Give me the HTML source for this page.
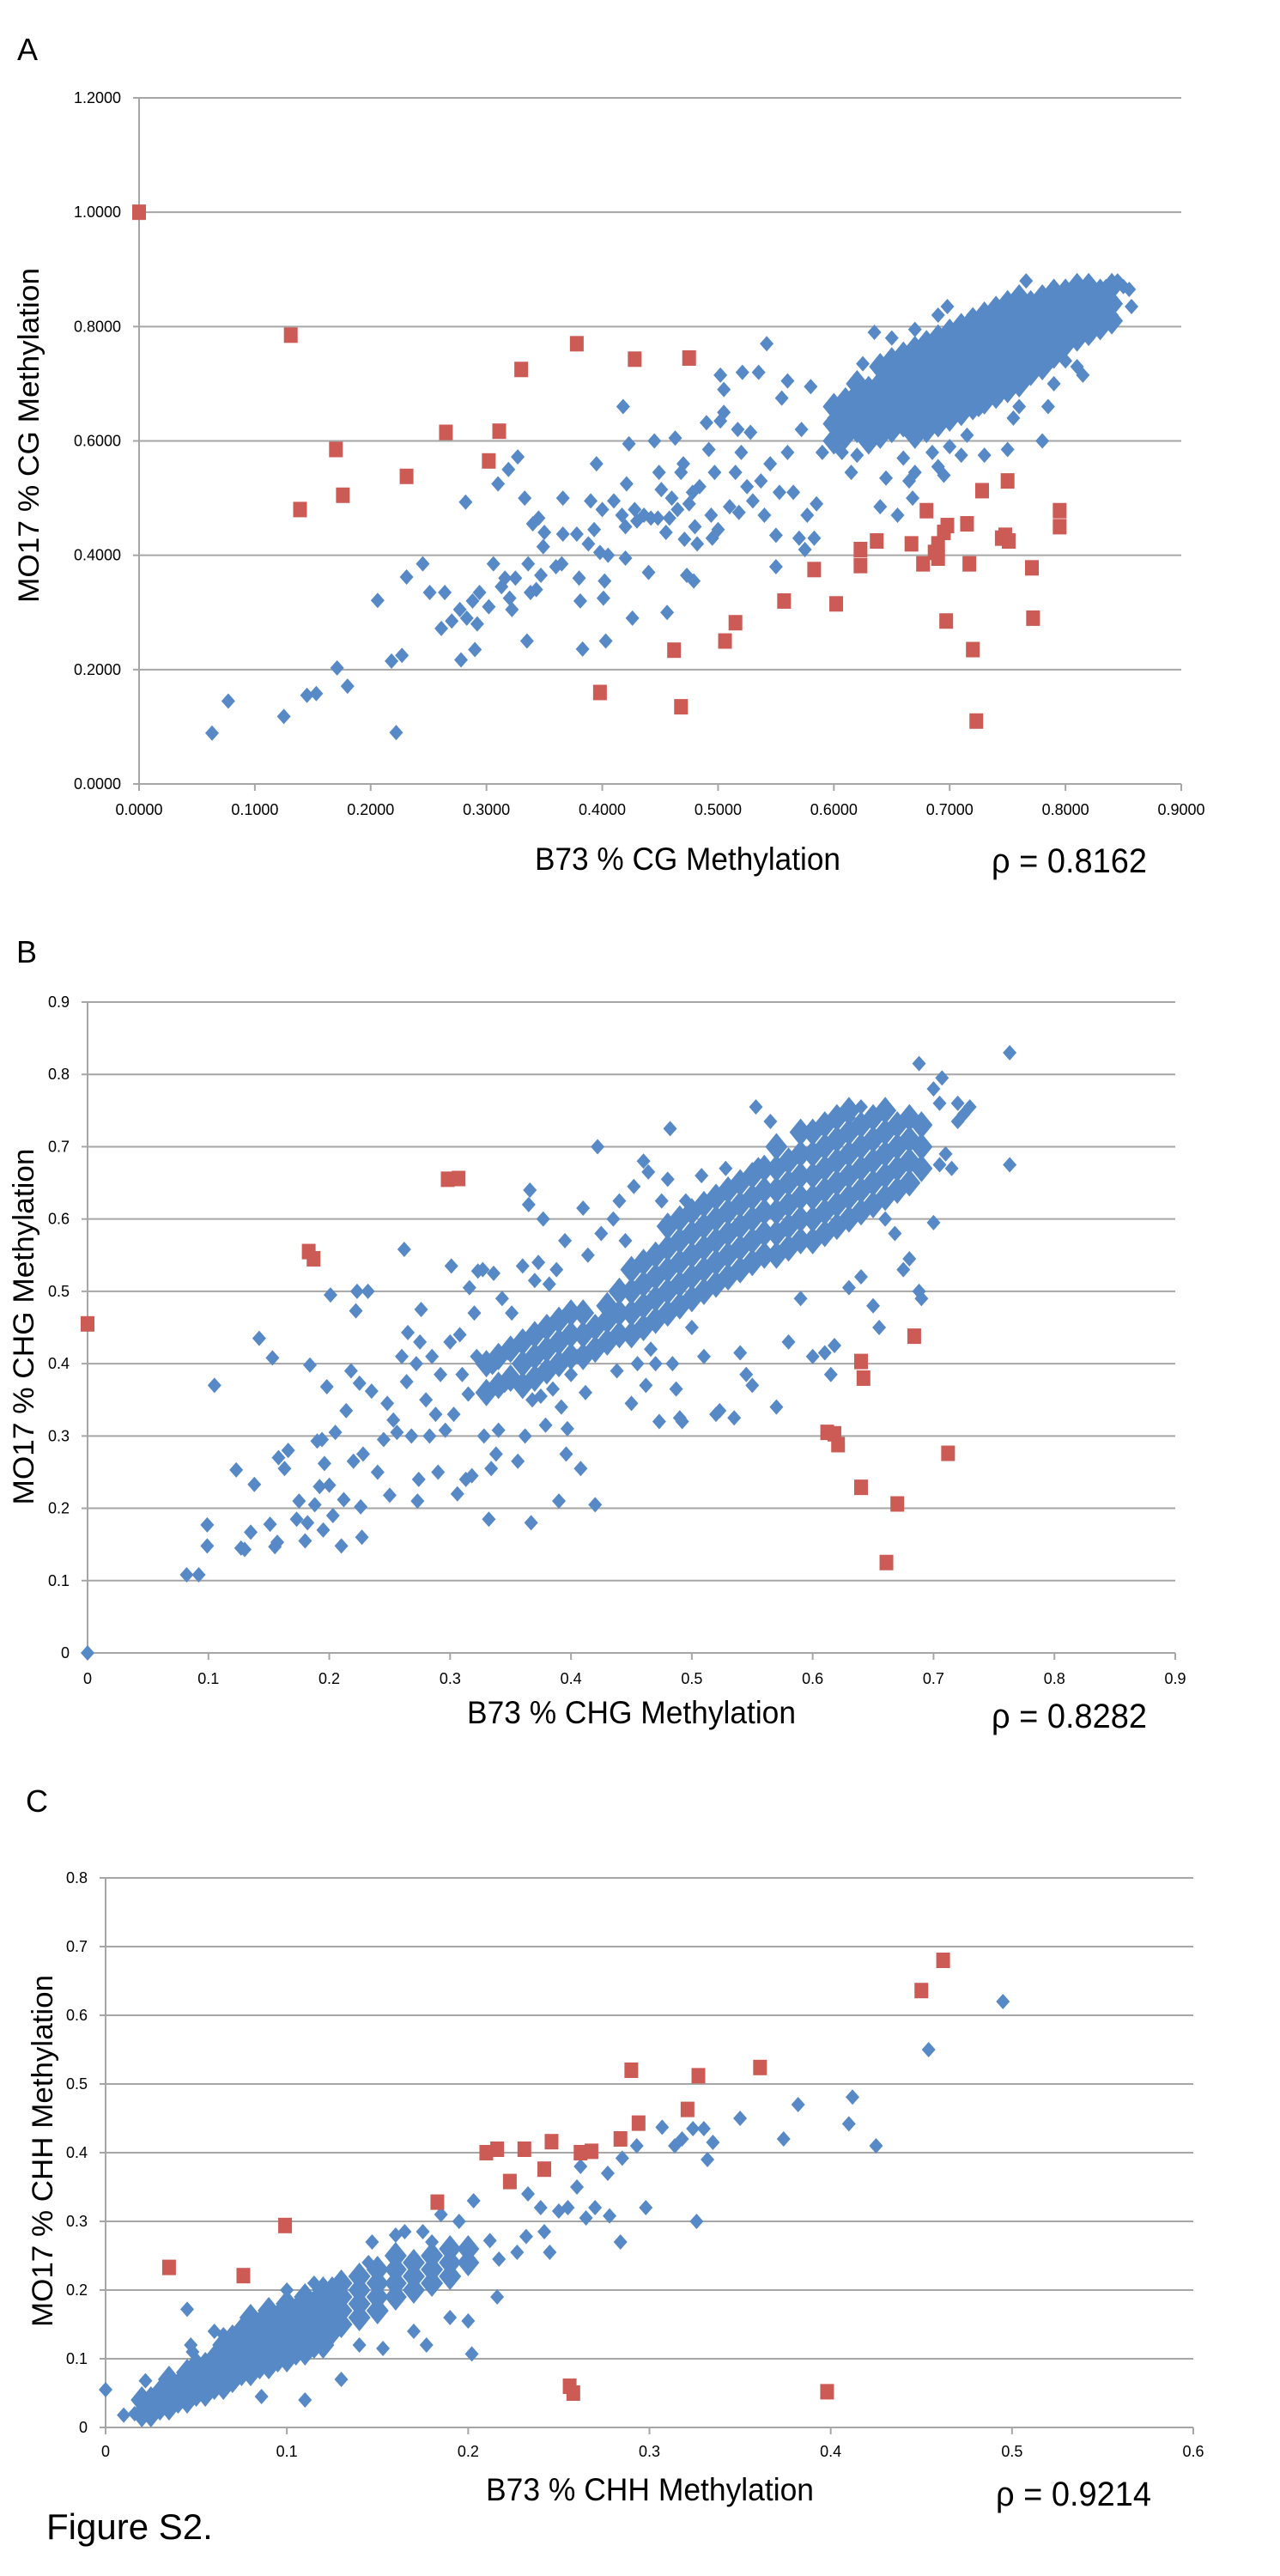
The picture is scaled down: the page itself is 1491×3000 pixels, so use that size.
<!DOCTYPE html>
<html><head><meta charset="utf-8"><style>
html,body{margin:0;padding:0;background:#fff;}
svg{display:block;font-family:"Liberation Sans",sans-serif;}
</style></head>
<body>
<svg id="fig" width="1491" height="3000" viewBox="0 0 1491 3000" xmlns="http://www.w3.org/2000/svg">
<rect x="0" y="0" width="1491" height="3000" fill="#fff"/>
<text x="20" y="70" font-size="36">A</text>
<text x="19" y="1121" font-size="36">B</text>
<text x="30" y="2110" font-size="36">C</text>
<text x="54" y="2957" font-size="42">Figure S2.</text>
</svg>
<script>
// ===== Panel A: CG =====
const cgXTicks = [0,0.1,0.2,0.3,0.4,0.5,0.6,0.7,0.8,0.9];
const cgYTicks = [0,0.2,0.4,0.6,0.8,1.0,1.2];
const cgRed = [[0,1.0],[0.131,0.785],[0.139,0.48],[0.170,0.585],[0.176,0.505],[0.231,0.538],[0.265,0.615],[0.302,0.565],[0.311,0.617],[0.330,0.725],[0.378,0.77],[0.398,0.16],[0.428,0.743],[0.462,0.234],[0.468,0.135],[0.475,0.745],[0.506,0.25],[0.515,0.282],[0.557,0.32],[0.583,0.375],[0.602,0.315],[0.623,0.41],[0.623,0.382],[0.637,0.425],[0.667,0.42],[0.677,0.385],[0.680,0.478],[0.687,0.405],[0.69,0.42],[0.69,0.395],[0.695,0.44],[0.698,0.452],[0.697,0.285],[0.715,0.455],[0.717,0.385],[0.72,0.235],[0.723,0.11],[0.728,0.513],[0.745,0.43],[0.748,0.435],[0.75,0.53],[0.751,0.425],[0.771,0.378],[0.772,0.29],[0.795,0.478],[0.795,0.45]];
const cgBlueScatter = [[0.063,0.089],[0.077,0.145],[0.125,0.118],[0.145,0.155],[0.153,0.158],[0.171,0.203],[0.180,0.171],[0.206,0.321],[0.218,0.215],[0.222,0.090],[0.227,0.225],[0.231,0.362],[0.245,0.385],[0.251,0.335],[0.264,0.335],[0.261,0.272],[0.270,0.285],[0.277,0.305],[0.283,0.29],[0.282,0.493],[0.288,0.32],[0.292,0.28],[0.294,0.335],[0.29,0.235],[0.278,0.217],[0.302,0.31],[0.306,0.385],[0.310,0.525],[0.313,0.345],[0.316,0.36],[0.319,0.55],[0.320,0.325],[0.322,0.305],[0.325,0.36],[0.327,0.572],[0.333,0.50],[0.335,0.25],[0.336,0.385],[0.338,0.335],[0.340,0.455],[0.343,0.34],[0.345,0.465],[0.347,0.365],[0.349,0.415],[0.35,0.44],[0.36,0.38],[0.365,0.385],[0.366,0.50],[0.366,0.437],[0.378,0.437],[0.380,0.36],[0.381,0.32],[0.383,0.236],[0.388,0.42],[0.390,0.495],[0.393,0.445],[0.395,0.56],[0.398,0.405],[0.4,0.48],[0.401,0.325],[0.402,0.355],[0.403,0.25],[0.405,0.40],[0.41,0.495],[0.417,0.47],[0.418,0.66],[0.42,0.45],[0.42,0.395],[0.421,0.525],[0.423,0.595],[0.426,0.29],[0.428,0.48],[0.43,0.46],[0.436,0.47],[0.44,0.37],[0.442,0.465],[0.445,0.60],[0.448,0.465],[0.449,0.545],[0.451,0.515],[0.455,0.44],[0.456,0.30],[0.458,0.465],[0.46,0.50],[0.463,0.605],[0.465,0.48],[0.468,0.545],[0.47,0.56],[0.471,0.428],[0.473,0.365],[0.475,0.49],[0.478,0.51],[0.479,0.355],[0.48,0.45],[0.482,0.42],[0.484,0.52],[0.49,0.632],[0.492,0.585],[0.494,0.47],[0.495,0.43],[0.497,0.545],[0.5,0.445],[0.502,0.635],[0.502,0.715],[0.505,0.69],[0.505,0.65],[0.51,0.485],[0.515,0.545],[0.517,0.62],[0.518,0.475],[0.52,0.58],[0.521,0.72],[0.525,0.52],[0.528,0.615],[0.53,0.495],[0.535,0.72],[0.537,0.53],[0.54,0.47],[0.542,0.77],[0.545,0.56],[0.55,0.435],[0.55,0.38],[0.553,0.51],[0.555,0.675],[0.56,0.58],[0.56,0.705],[0.565,0.51],[0.57,0.43],[0.572,0.62],[0.575,0.41],[0.577,0.47],[0.58,0.695],[0.583,0.43],[0.585,0.49],[0.59,0.58],[0.6,0.64],[0.607,0.58],[0.61,0.65],[0.615,0.545],[0.62,0.575],[0.625,0.735],[0.63,0.60],[0.635,0.79],[0.64,0.485],[0.645,0.535],[0.65,0.78],[0.655,0.47],[0.66,0.57],[0.665,0.53],[0.668,0.50],[0.67,0.795],[0.67,0.545],[0.685,0.58],[0.69,0.82],[0.695,0.54],[0.69,0.555],[0.698,0.835],[0.70,0.59],[0.71,0.575],[0.715,0.61],[0.72,0.82],[0.725,0.655],[0.73,0.575],[0.74,0.67],[0.75,0.585],[0.755,0.64],[0.76,0.66],[0.766,0.88],[0.78,0.60],[0.785,0.66],[0.79,0.70],[0.8,0.74],[0.805,0.79],[0.81,0.73],[0.815,0.715],[0.82,0.78],[0.83,0.86],[0.84,0.82],[0.845,0.88],[0.85,0.87],[0.855,0.865],[0.857,0.835],[0.835,0.87],[0.825,0.85]];
const cgBlueCore = [[0.60,[.60,.63,.66]],[0.61,[.61,.64,.67]],[0.62,[.62,.65,.68,.70]],[0.63,[.60,.63,.66,.69]],[0.64,[.61,.64,.67,.70,.73]],[0.65,[.62,.65,.68,.71,.74]],[0.66,[.63,.66,.69,.72,.75]],[0.67,[.61,.64,.67,.70,.73,.76]],[0.68,[.62,.65,.68,.71,.74,.77]],[0.69,[.63,.66,.69,.72,.75,.78]],[0.70,[.64,.67,.70,.73,.76,.79]],[0.71,[.65,.68,.71,.74,.77,.80]],[0.72,[.66,.69,.72,.75,.78,.81]],[0.73,[.67,.70,.73,.76,.79,.82]],[0.74,[.68,.71,.74,.77,.80,.83]],[0.75,[.69,.72,.75,.78,.81,.84]],[0.76,[.70,.73,.76,.79,.82,.85]],[0.77,[.72,.75,.78,.81,.84]],[0.78,[.73,.76,.79,.82,.85]],[0.79,[.75,.78,.81,.84,.86]],[0.80,[.77,.80,.83,.86]],[0.81,[.78,.81,.84,.87]],[0.82,[.79,.82,.85,.87]],[0.83,[.80,.83,.86]],[0.84,[.81,.84,.87]]];

// ===== Panel B: CHG =====
const chgXTicks = [0,0.1,0.2,0.3,0.4,0.5,0.6,0.7,0.8,0.9];
const chgYTicks = [0,0.1,0.2,0.3,0.4,0.5,0.6,0.7,0.8,0.9];
const chgRed = [[0,0.455],[0.183,0.555],[0.187,0.545],[0.298,0.655],[0.307,0.656],[0.612,0.305],[0.618,0.303],[0.621,0.288],[0.640,0.403],[0.642,0.38],[0.640,0.229],[0.661,0.125],[0.670,0.206],[0.684,0.438],[0.712,0.276]];
const chgBlueScatter = [[0,0],[0.082,0.108],[0.092,0.108],[0.099,0.148],[0.099,0.177],[0.105,0.37],[0.123,0.253],[0.127,0.145],[0.13,0.143],[0.135,0.167],[0.138,0.233],[0.142,0.435],[0.151,0.178],[0.153,0.408],[0.155,0.147],[0.157,0.153],[0.158,0.27],[0.163,0.255],[0.166,0.28],[0.173,0.185],[0.175,0.21],[0.18,0.155],[0.182,0.18],[0.184,0.398],[0.188,0.205],[0.19,0.293],[0.192,0.23],[0.194,0.295],[0.195,0.17],[0.196,0.262],[0.198,0.368],[0.2,0.232],[0.201,0.495],[0.203,0.19],[0.205,0.305],[0.21,0.148],[0.212,0.212],[0.214,0.335],[0.218,0.39],[0.22,0.265],[0.222,0.473],[0.223,0.5],[0.225,0.373],[0.226,0.202],[0.227,0.16],[0.228,0.275],[0.232,0.5],[0.235,0.362],[0.24,0.25],[0.245,0.295],[0.248,0.345],[0.25,0.218],[0.253,0.322],[0.256,0.305],[0.26,0.41],[0.262,0.558],[0.264,0.375],[0.265,0.443],[0.268,0.3],[0.272,0.4],[0.273,0.21],[0.274,0.24],[0.275,0.43],[0.276,0.475],[0.28,0.35],[0.283,0.3],[0.285,0.41],[0.288,0.33],[0.29,0.25],[0.292,0.385],[0.296,0.308],[0.3,0.43],[0.301,0.535],[0.303,0.33],[0.306,0.22],[0.308,0.44],[0.31,0.385],[0.313,0.24],[0.315,0.358],[0.316,0.505],[0.318,0.245],[0.32,0.47],[0.322,0.41],[0.323,0.528],[0.327,0.53],[0.328,0.3],[0.332,0.185],[0.334,0.255],[0.335,0.395],[0.336,0.525],[0.338,0.275],[0.34,0.308],[0.343,0.49],[0.345,0.37],[0.348,0.415],[0.351,0.47],[0.353,0.42],[0.356,0.265],[0.36,0.535],[0.362,0.3],[0.365,0.62],[0.366,0.64],[0.367,0.18],[0.368,0.35],[0.37,0.515],[0.373,0.54],[0.375,0.355],[0.377,0.6],[0.379,0.315],[0.382,0.51],[0.385,0.365],[0.388,0.53],[0.39,0.21],[0.392,0.34],[0.395,0.57],[0.396,0.275],[0.397,0.31],[0.4,0.385],[0.405,0.41],[0.408,0.255],[0.41,0.615],[0.412,0.36],[0.414,0.55],[0.42,0.205],[0.422,0.7],[0.425,0.58],[0.43,0.465],[0.435,0.6],[0.438,0.39],[0.44,0.625],[0.445,0.57],[0.45,0.345],[0.452,0.645],[0.455,0.4],[0.46,0.68],[0.462,0.37],[0.464,0.665],[0.466,0.42],[0.47,0.4],[0.473,0.32],[0.475,0.625],[0.48,0.655],[0.482,0.725],[0.484,0.4],[0.487,0.365],[0.49,0.325],[0.492,0.32],[0.495,0.625],[0.5,0.45],[0.508,0.66],[0.51,0.41],[0.52,0.33],[0.523,0.335],[0.528,0.67],[0.535,0.325],[0.54,0.415],[0.545,0.385],[0.55,0.37],[0.553,0.755],[0.555,0.675],[0.565,0.735],[0.57,0.34],[0.58,0.43],[0.59,0.49],[0.6,0.41],[0.61,0.415],[0.615,0.385],[0.618,0.425],[0.63,0.505],[0.64,0.52],[0.65,0.48],[0.655,0.45],[0.66,0.6],[0.668,0.58],[0.675,0.53],[0.68,0.545],[0.688,0.5],[0.69,0.49],[0.7,0.595],[0.705,0.675],[0.71,0.69],[0.715,0.67],[0.72,0.735],[0.725,0.745],[0.73,0.755],[0.707,0.795],[0.7,0.78],[0.688,0.815],[0.763,0.83],[0.763,0.675],[0.72,0.76],[0.705,0.76],[0.64,0.755],[0.63,0.74]];
const chgBlueCore = [[0.33,[.36,.40]],[0.34,[.37,.41]],[0.35,[.38,.42]],[0.36,[.37,.40,.43]],[0.37,[.38,.41,.44]],[0.38,[.39,.42,.45]],[0.39,[.40,.43,.46]],[0.40,[.41,.44,.47]],[0.41,[.41,.44,.47]],[0.42,[.42,.45]],[0.43,[.43,.46,.48]],[0.44,[.44,.47,.50]],[0.45,[.44,.47,.50,.53]],[0.46,[.45,.48,.51,.54]],[0.47,[.46,.49,.52,.55]],[0.48,[.47,.50,.53,.56,.59]],[0.49,[.48,.51,.54,.57,.60]],[0.50,[.49,.52,.55,.58,.61]],[0.51,[.50,.53,.56,.59,.62]],[0.52,[.51,.54,.57,.60,.63]],[0.53,[.52,.55,.58,.61,.64]],[0.54,[.53,.56,.59,.62,.65]],[0.55,[.54,.57,.60,.63,.66]],[0.56,[.55,.58,.61,.64,.67]],[0.57,[.55,.58,.61,.64,.67,.70]],[0.58,[.56,.59,.62,.65,.68]],[0.59,[.57,.60,.63,.66,.69,.72]],[0.60,[.57,.60,.63,.66,.69,.72]],[0.61,[.58,.61,.64,.67,.70,.73]],[0.62,[.59,.62,.65,.68,.71,.74]],[0.63,[.60,.63,.66,.69,.72,.75]],[0.64,[.61,.64,.67,.70,.73]],[0.65,[.62,.65,.68,.71,.74]],[0.66,[.63,.66,.69,.72,.75]],[0.67,[.64,.67,.70,.73]],[0.68,[.65,.68,.71,.74]],[0.69,[.67,.70,.73]]];

// ===== Panel C: CHH =====
const chhXTicks = [0,0.1,0.2,0.3,0.4,0.5,0.6];
const chhYTicks = [0,0.1,0.2,0.3,0.4,0.5,0.6,0.7,0.8];
const chhRed = [[0.035,0.233],[0.076,0.221],[0.099,0.294],[0.183,0.328],[0.21,0.4],[0.216,0.405],[0.223,0.358],[0.231,0.405],[0.242,0.376],[0.246,0.416],[0.262,0.4],[0.268,0.402],[0.256,0.06],[0.258,0.05],[0.284,0.42],[0.29,0.52],[0.294,0.443],[0.321,0.463],[0.327,0.512],[0.361,0.524],[0.398,0.052],[0.45,0.636],[0.462,0.68]];
const chhBlueScatter = [[0,0.055],[0.010,0.018],[0.016,0.02],[0.022,0.068],[0.045,0.172],[0.047,0.12],[0.048,0.11],[0.06,0.14],[0.065,0.135],[0.078,0.153],[0.086,0.045],[0.1,0.2],[0.11,0.04],[0.115,0.21],[0.13,0.07],[0.14,0.12],[0.145,0.24],[0.147,0.27],[0.153,0.115],[0.16,0.28],[0.165,0.285],[0.17,0.14],[0.175,0.285],[0.177,0.12],[0.18,0.27],[0.185,0.31],[0.19,0.16],[0.195,0.3],[0.2,0.155],[0.202,0.107],[0.203,0.33],[0.212,0.272],[0.216,0.19],[0.217,0.245],[0.227,0.255],[0.232,0.278],[0.233,0.34],[0.24,0.32],[0.242,0.285],[0.245,0.255],[0.25,0.315],[0.255,0.32],[0.26,0.35],[0.262,0.38],[0.265,0.305],[0.27,0.32],[0.277,0.37],[0.278,0.308],[0.284,0.27],[0.285,0.392],[0.293,0.41],[0.298,0.32],[0.307,0.437],[0.314,0.41],[0.318,0.42],[0.324,0.435],[0.326,0.3],[0.33,0.435],[0.332,0.39],[0.335,0.415],[0.35,0.45],[0.374,0.42],[0.382,0.47],[0.41,0.442],[0.412,0.481],[0.425,0.41],[0.454,0.55],[0.495,0.62]];
const chhBlueCore = [[0.02,[.02,.04]],[0.025,[.02,.04]],[0.03,[.03,.05]],[0.035,[.03,.05,.07]],[0.04,[.04,.06]],[0.045,[.04,.06,.08]],[0.05,[.05,.07,.09]],[0.055,[.05,.07,.09]],[0.06,[.06,.08,.10]],[0.065,[.06,.08,.10,.12]],[0.07,[.07,.09,.11,.13]],[0.075,[.08,.10,.12,.14]],[0.08,[.08,.10,.12,.14,.16]],[0.085,[.09,.11,.13,.15]],[0.09,[.09,.11,.13,.15,.17]],[0.095,[.10,.12,.14,.16]],[0.10,[.10,.12,.14,.16,.18]],[0.105,[.11,.13,.15,.17]],[0.11,[.11,.13,.15,.17,.19]],[0.115,[.12,.14,.16,.18]],[0.12,[.12,.14,.16,.18,.20]],[0.125,[.14,.16,.18,.20]],[0.13,[.15,.17,.19,.21]],[0.14,[.16,.18,.20,.22]],[0.15,[.17,.19,.21,.23]],[0.16,[.19,.21,.23,.25]],[0.17,[.20,.22,.24]],[0.18,[.21,.23,.25]],[0.19,[.22,.24,.26]],[0.20,[.24,.26]]];

const NS = "http://www.w3.org/2000/svg";
const svg = document.getElementById('fig');
const BLUE = "#5689C6", RED = "#CC5A55", GRID = "#A6A6A6";

function mk(tag, attrs, parent) {
  const e = document.createElementNS(NS, tag);
  for (const k in attrs) e.setAttribute(k, attrs[k]);
  (parent || svg).appendChild(e);
  return e;
}

function panel(cfg) {
  const g = mk('g', {});
  
  
  const sx = v => cfg.x0 + (v / cfg.xmax) * (cfg.x1 - cfg.x0);
  const sy = v => cfg.y0 - (v / cfg.ymax) * (cfg.y0 - cfg.y1);
  cfg.yTicks.forEach(t => {
    const y = sy(t);
    if (t > 0) {
      const gl = mk('line', {x1: cfg.x0, x2: cfg.x1, y1: y, y2: y, stroke: GRID, 'stroke-width': 2}, g);
      
      
    }
    mk('line', {x1: cfg.x0 - 7, x2: cfg.x0, y1: y, y2: y, stroke: GRID, 'stroke-width': 2}, g);
    const tl = mk('text', {x: cfg.yLabRight, y: y + 6, 'font-size': 18, 'text-anchor': 'end'}, g);
    
    
    tl.textContent = t === 0 && cfg.dec === 1 ? '0' : t.toFixed(cfg.dec);
  });
  const ya = mk('line', {x1: cfg.x0, x2: cfg.x0, y1: cfg.y1, y2: cfg.y0, stroke: GRID, 'stroke-width': 2}, g);
  
  
  const xa = mk('line', {x1: cfg.x0, x2: cfg.x1, y1: cfg.y0, y2: cfg.y0, stroke: GRID, 'stroke-width': 2}, g);
  
  
  cfg.xTicks.forEach(t => {
    const x = sx(t);
    mk('line', {x1: x, x2: x, y1: cfg.y0, y2: cfg.y0 + 8, stroke: GRID, 'stroke-width': 2}, g);
    const tl = mk('text', {x: x, y: cfg.xLabY + 6, 'font-size': 18, 'text-anchor': 'middle'}, g);
    
    
    tl.textContent = t === 0 && cfg.dec === 1 ? '0' : t.toFixed(cfg.dec);
  });
  const diamond = (v, hw, hh) => {
    const x = sx(v[0]), y = sy(v[1]);
    const p = mk('polygon', {points: `${x},${y-hh} ${x+hw},${y} ${x},${y+hh} ${x-hw},${y}`, fill: BLUE}, g);
    
    
  };
  cfg.core.forEach(row => row[1].forEach(yv => diamond([row[0], yv], 13, 16)));
  cfg.scatter.forEach(v => diamond(v, 8, 9));
  cfg.red.forEach(v => {
    const x = sx(v[0]), y = sy(v[1]);
    const r = mk('rect', {x: x - 8, y: y - 9, width: 16, height: 18, fill: RED}, g);
    
    
  });
  const yt = mk('text', {x: 0, y: 0, 'font-size': 34, 'text-anchor': 'middle', transform: `translate(${cfg.ytx},${cfg.yty}) rotate(-90)`, textLength: cfg.ytLen, lengthAdjust: 'spacingAndGlyphs', dy: 12}, g);
  
  
  yt.textContent = cfg.yTitle;
  const xt = mk('text', {x: cfg.xtx, y: cfg.xty, 'font-size': 37, textLength: cfg.xtLen, lengthAdjust: 'spacingAndGlyphs'}, g);
  
  
  xt.textContent = cfg.xTitle;
  const rt = mk('text', {x: cfg.rx, y: cfg.ry, 'font-size': 40, textLength: 181, lengthAdjust: 'spacingAndGlyphs'}, g);
  
  
  rt.textContent = cfg.rho;
}

panel({name: 'cg', x0: 162, x1: 1376, xmax: 0.9, y0: 913, y1: 114, ymax: 1.2, dec: 4,
  xTicks: cgXTicks, yTicks: cgYTicks, yLabRight: 141, xLabY: 943,
  core: cgBlueCore, scatter: cgBlueScatter, red: cgRed,
  yTitle: 'MO17 % CG Methylation', ytx: 33, yty: 507, ytLen: 390,
  xTitle: 'B73 % CG Methylation', xtx: 623, xty: 1013, xtLen: 356,
  rho: 'ρ = 0.8162', rx: 1155, ry: 1016});

panel({name: 'chg', x0: 102, x1: 1369, xmax: 0.9, y0: 1925, y1: 1167, ymax: 0.9, dec: 1,
  xTicks: chgXTicks, yTicks: chgYTicks, yLabRight: 81, xLabY: 1955,
  core: chgBlueCore, scatter: chgBlueScatter, red: chgRed,
  yTitle: 'MO17 % CHG Methylation', ytx: 27, yty: 1545, ytLen: 415,
  xTitle: 'B73 % CHG Methylation', xtx: 544, xty: 2007, xtLen: 383,
  rho: 'ρ = 0.8282', rx: 1155, ry: 2012});

panel({name: 'chh', x0: 123, x1: 1390, xmax: 0.6, y0: 2827, y1: 2187, ymax: 0.8, dec: 1,
  xTicks: chhXTicks, yTicks: chhYTicks, yLabRight: 102, xLabY: 2855,
  core: chhBlueCore, scatter: chhBlueScatter, red: chhRed,
  yTitle: 'MO17 % CHH Methylation', ytx: 49, yty: 2505, ytLen: 410,
  xTitle: 'B73 % CHH Methylation', xtx: 566, xty: 2912, xtLen: 382,
  rho: 'ρ = 0.9214', rx: 1160, ry: 2918});
</script>
</body></html>
